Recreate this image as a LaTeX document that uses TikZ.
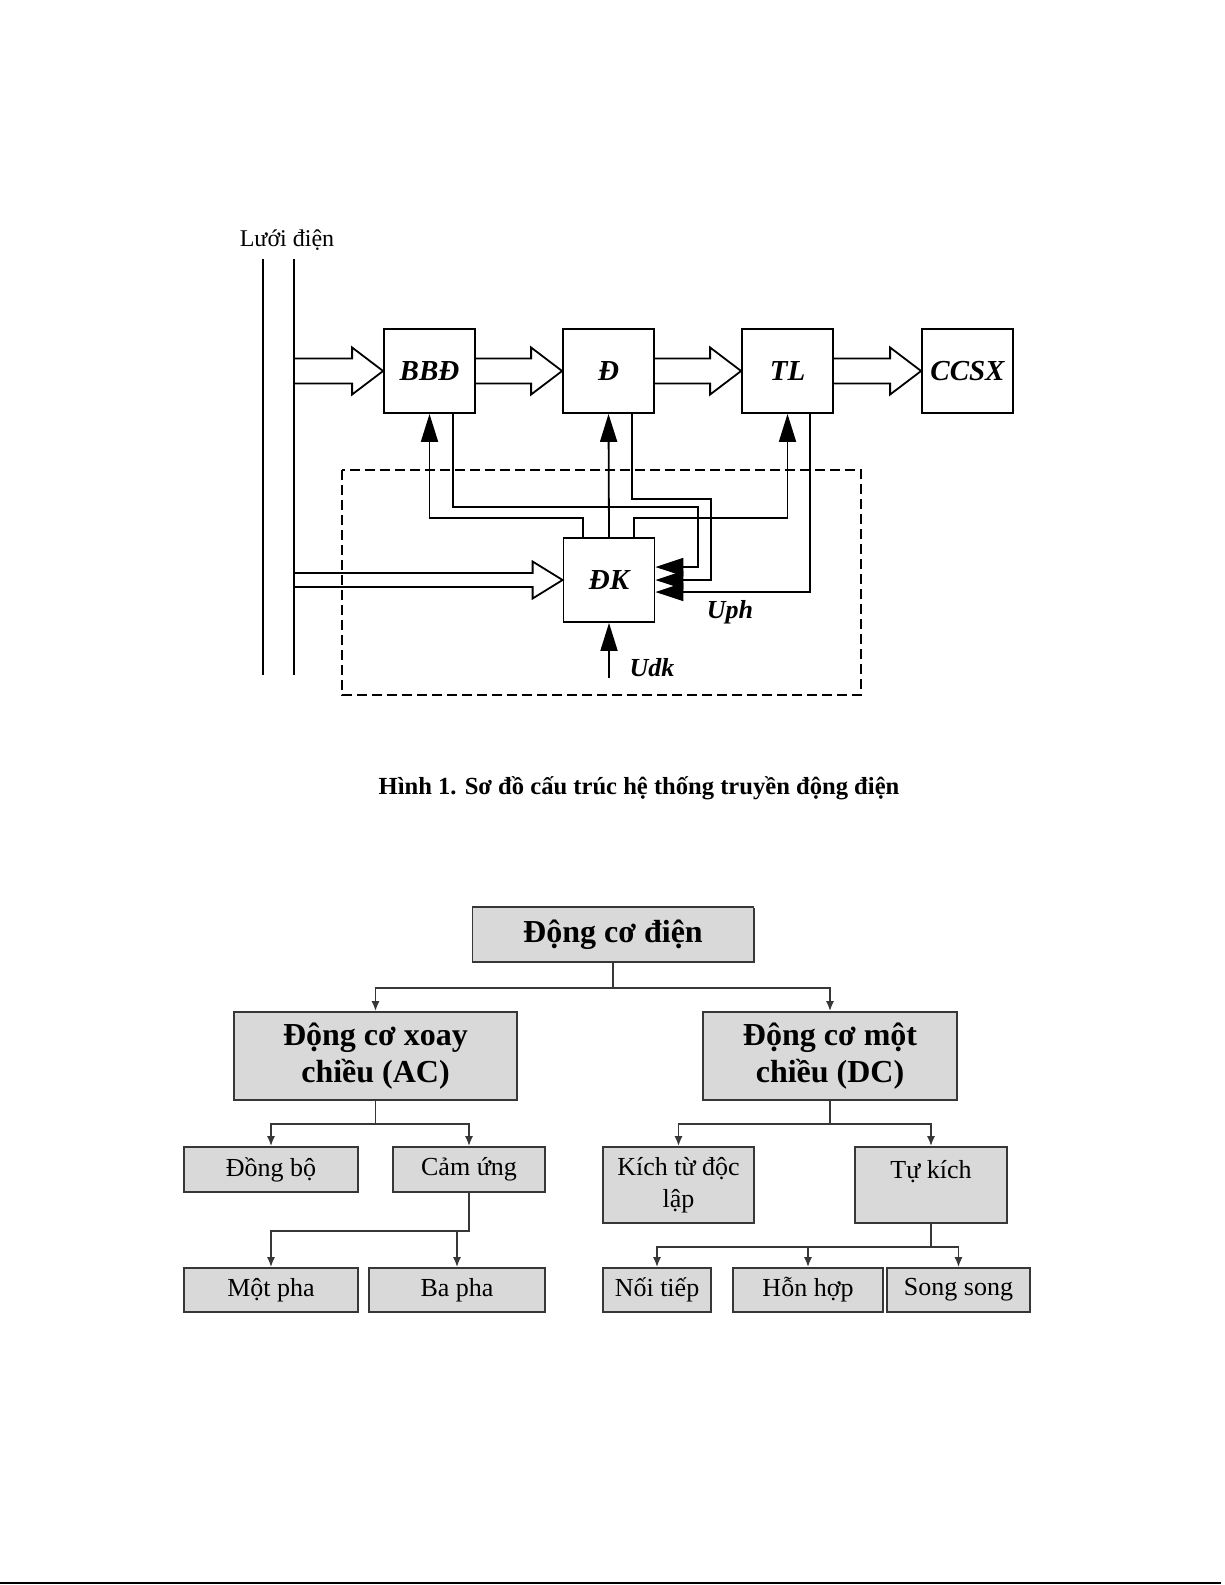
\documentclass[tikz,border=0pt]{standalone}
\usepackage{fontspec}
\setmainfont{Liberation Serif}
\usetikzlibrary{arrows.meta,shadows}

\definecolor{boxgray}{RGB}{217,217,217}
\definecolor{edgegray}{RGB}{55,55,55}

\tikzset{
  blk/.style={draw,line width=0.9pt,minimum width=45.5pt,minimum height=42pt,inner sep=0pt,font=\fontsize{14.5}{16}\selectfont\bfseries\itshape},
  farrow/.style={line width=0.9pt,-{Triangle[length=14pt,width=8.5pt]}},
  iarrow/.style={line width=0.9pt,-{Triangle[length=14pt,width=9pt]}},
  lbl/.style={font=\fontsize{13}{15}\selectfont\bfseries\itshape},
  tbox/.style={draw=edgegray,fill=boxgray,line width=0.8pt,inner sep=0pt,align=center,drop shadow={shadow xshift=0.7pt,shadow yshift=-0.7pt,fill=edgegray,opacity=1}},
  tbig/.style={font=\fontsize{16}{18.5}\selectfont\bfseries},
  tsmall/.style={font=\fontsize{13}{16}\selectfont},
  tarrow/.style={draw=edgegray,line width=0.9pt,-{Latex[length=5pt,width=4pt]}}
}

\begin{document}
\begin{tikzpicture}[x=0.5pt,y=-0.5pt]
\useasboundingbox (0,0) rectangle (1225,1585);
\node[font=\fontsize{12}{14}\selectfont] (grid) at (287,240) {Lưới điện};
\draw[line width=0.9pt] (263,259) -- (263,675) (294,259) -- (294,675);
\coordinate (busA) at (294,371);
\coordinate (busB) at (294,580);
\node[blk] (bbd) at (429.5,371) {BBĐ};
\node[blk] (d) at (608.5,371) {Đ};
\node[blk] (tl) at (787.5,371) {TL};
\node[blk] (ccsx) at (967.5,371) {CCSX};
\node[blk] (dk) at (609,580) {ĐK};
\draw[line width=0.9pt,dash pattern=on 5pt off 2.5pt] (342,470) rectangle (861,695);
\foreach \a/\b in {busA/bbd.west,bbd.east/d.west,d.east/tl.west,tl.east/ccsx.west}
  \draw[line width=0.9pt] ([yshift=6.25pt]\a) -- ([xshift=-15.5pt,yshift=6.25pt]\b) -- ([xshift=-15.5pt,yshift=11.75pt]\b) -- (\b) -- ([xshift=-15.5pt,yshift=-11.75pt]\b) -- ([xshift=-15.5pt,yshift=-6.25pt]\b) -- ([yshift=-6.25pt]\a);
\draw[line width=0.9pt] ([yshift=3.5pt]busB) -- ([xshift=-15pt,yshift=3.5pt]dk.west) -- ([xshift=-15pt,yshift=9.25pt]dk.west) -- (dk.west) -- ([xshift=-15pt,yshift=-9.25pt]dk.west) -- ([xshift=-15pt,yshift=-3.5pt]dk.west) -- ([yshift=-3.5pt]busB);
\coordinate (lvA) at (0,518);
\coordinate (lvB) at (698,507);
\coordinate (lvC) at (711,499);
\draw[farrow] ([xshift=-13pt]dk.north) |- (bbd.south |- lvA) -- (bbd.south);
\draw[farrow] (dk.north) -- (d.south);
\draw[farrow] ([xshift=12.5pt]dk.north) |- (tl.south |- lvA) -- (tl.south);
\draw[iarrow] ([xshift=11.75pt]bbd.south) |- (lvB) |- ([yshift=6.5pt]dk.east);
\draw[iarrow] ([xshift=11.75pt]d.south) |- (lvC) |- (dk.east);
\draw[iarrow] ([xshift=11.25pt]tl.south) |- ([yshift=-6pt]dk.east);
\coordinate (udk) at (609,678);
\draw[farrow] (udk) -- (dk.south);
\node[lbl] (uph) at (730,612) {Uph};
\node[lbl] (udklbl) at (652,668) {Udk};
\node[font=\fontsize{12.3}{14}\selectfont\bfseries] (caption) at (639,788) {Hình 1. Sơ đồ cấu trúc hệ thống truyền động điện};

\node[tbox,tbig,minimum width=140.5pt,minimum height=27.5pt] (motor) at (613,934.5) {Động cơ điện};
\node[tbox,tbig,minimum width=141.5pt,minimum height=44pt] (ac) at (375.5,1056) {Động cơ xoay\\chiều (AC)};
\node[tbox,tbig,minimum width=127pt,minimum height=44pt] (dc) at (830,1056) {Động cơ một\\chiều (DC)};
\node[tbox,tsmall,minimum width=87pt,minimum height=22.5pt] (dongbo) at (271,1169.5) {Đồng bộ};
\node[tbox,tsmall,minimum width=76pt,minimum height=22.5pt] (camung) at (469,1169.5) {Cảm ứng};
\node[tbox,tsmall,minimum width=75.5pt,minimum height=38pt] (kichtu) at (678.5,1185) {Kích từ độc\\lập};
\node[tbox,tsmall,minimum width=76pt,minimum height=38pt] (tukich) at (931,1185) {Tự kích\\~};
\node[tbox,tsmall,minimum width=87pt,minimum height=22pt] (motpha) at (271,1290) {Một pha};
\node[tbox,tsmall,minimum width=88pt,minimum height=22pt] (bapha) at (457,1290) {Ba pha};
\node[tbox,tsmall,minimum width=54pt,minimum height=22pt] (noitiep) at (657,1290) {Nối tiếp};
\node[tbox,tsmall,minimum width=75pt,minimum height=22pt] (honhop) at (808,1290) {Hỗn hợp};
\node[tbox,tsmall,minimum width=71.5pt,minimum height=22pt] (songsong) at (958.5,1290) {Song song};
\draw[tarrow] (motor.south) -- ++(0,25) -| (ac.north);
\draw[tarrow] (motor.south) -- ++(0,25) -| (dc.north);
\draw[tarrow] (ac.south) -- ++(0,23) -| (dongbo.north);
\draw[tarrow] (ac.south) -- ++(0,23) -| (camung.north);
\draw[tarrow] (camung.south) -- ++(0,38) -| (motpha.north);
\draw[tarrow] (camung.south) -- ++(0,38) -| (bapha.north);
\draw[tarrow] (dc.south) -- ++(0,23) -| (kichtu.north);
\draw[tarrow] (dc.south) -- ++(0,23) -| (tukich.north);
\foreach \c in {noitiep,honhop,songsong}
  \draw[tarrow] (tukich.south) -- ++(0,23) -| (\c.north);
\draw[line width=1pt] (0,1583) -- (1221,1583);
\end{tikzpicture}
\end{document}
